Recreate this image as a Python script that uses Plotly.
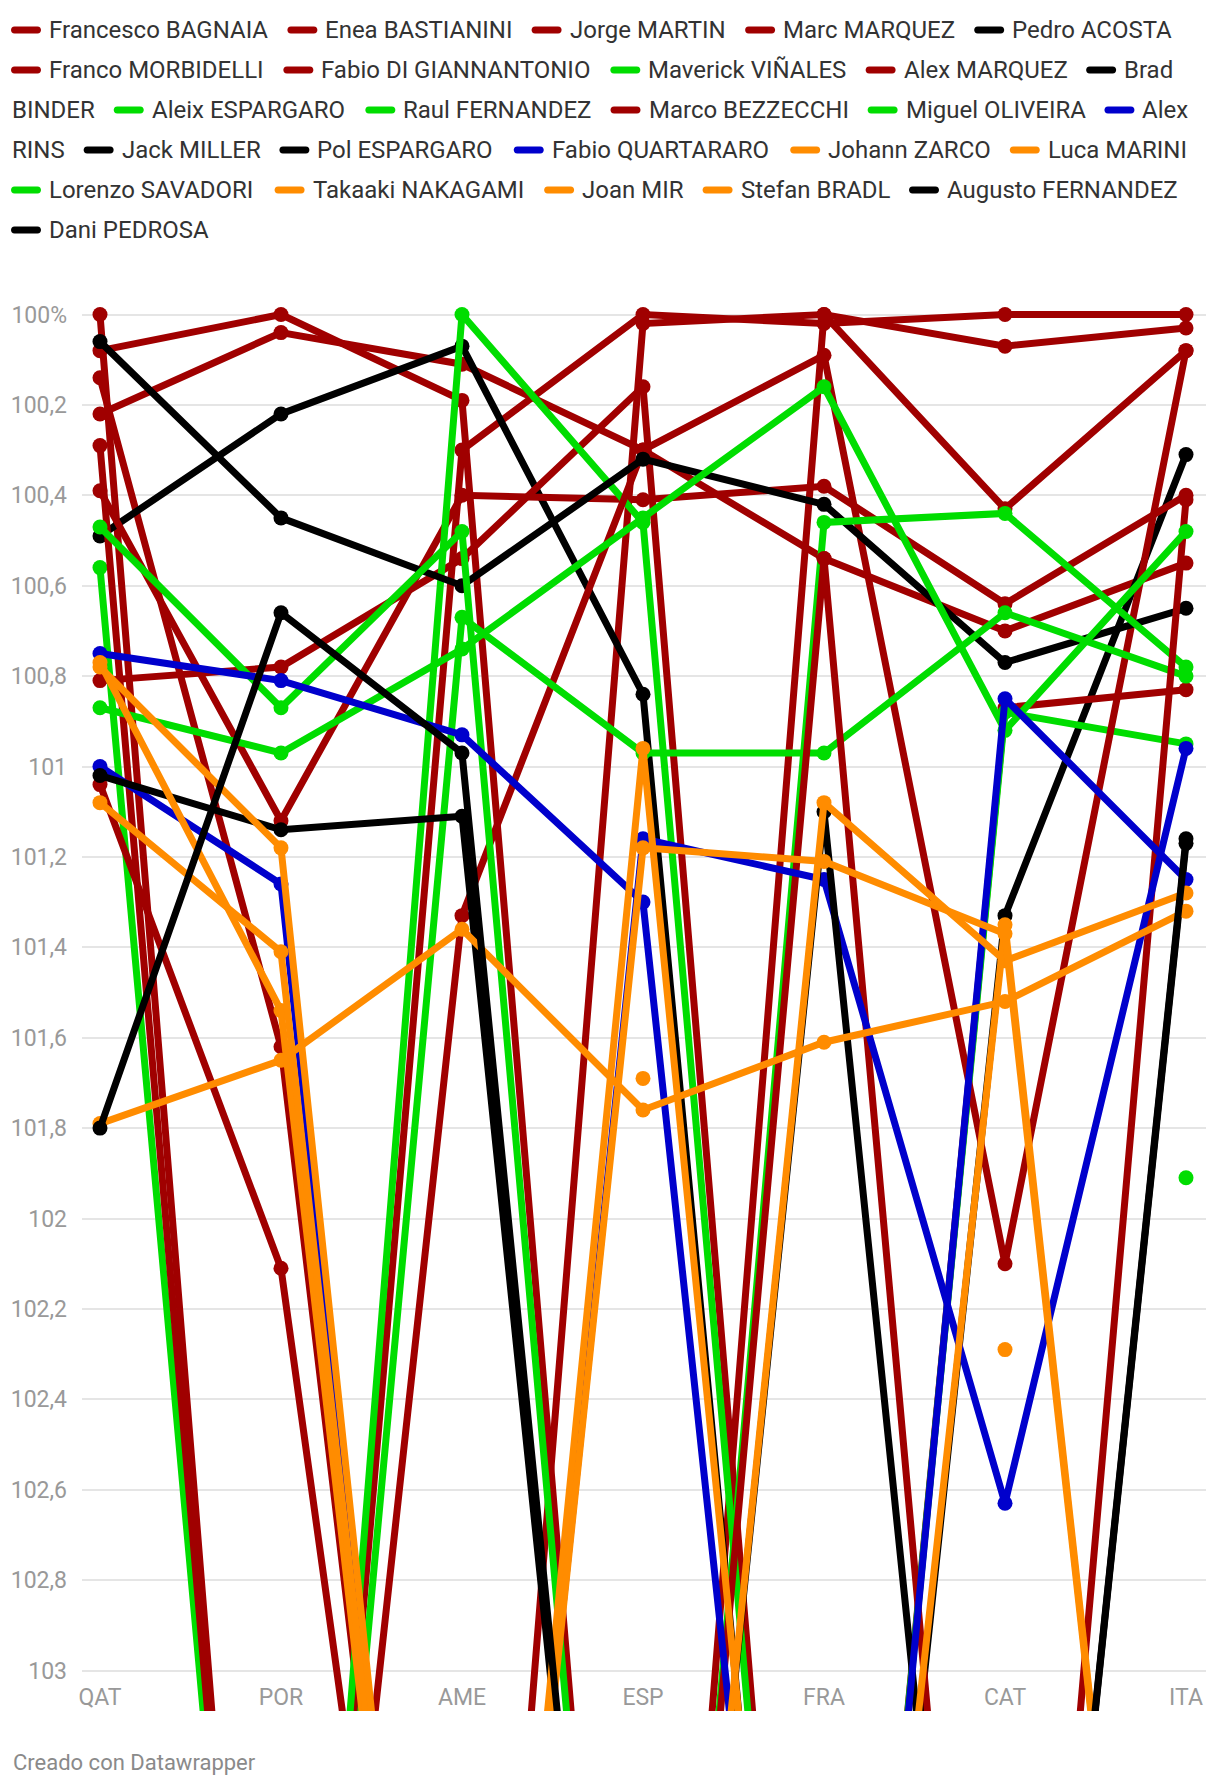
import plotly.graph_objects as go

races = ["QAT", "POR", "AME", "ESP", "FRA", "CAT", "ITA"]

# race time as % of the winner's time; values around 105 fall off the bottom of the chart
bagnaia = [100.00, 105.0, 100.30, 100.00, 100.02, 100.00, 100.00]
bastianini = [100.22, 100.04, 100.11, 100.30, 100.54, 100.70, 100.55]
martin = [100.08, 100.00, 100.19, 105.0, 100.00, 100.07, 100.03]
marc_marquez = [100.14, 101.62, 105.0, 100.02, 100.00, 100.43, 100.08]
acosta = [100.49, 100.22, 100.07, 100.84, 105.1, 101.33, 100.31]
morbidelli = [100.81, 100.78, 100.54, 100.16, 105.0, 100.87, 100.83]
di_giannantonio = [100.39, 101.12, 100.40, 100.41, 100.38, 100.64, 100.40]
vinales = [100.56, 105.0, 100.00, 100.46, 105.0, 100.88, 100.95]
alex_marquez = [100.29, 105.0, 101.33, 100.30, 100.09, 102.10, 100.08]
binder = [100.06, 100.45, 100.60, 100.32, 100.42, 100.77, 100.65]
aleix_espargaro = [100.47, 100.87, 100.48, 105.0, 100.46, 100.44, 100.78]
raul_fernandez = [105.0, 105.0, 100.67, 100.97, 100.97, 100.66, 100.80]
bezzecchi = [101.04, 102.11, 105.0, 105.0, 100.54, 105.0, 100.41]
oliveira = [100.87, 100.97, 100.74, 100.45, 100.16, 100.92, 100.48]
rins = [101.00, 101.26, 105.0, 101.16, 101.25, 102.63, 100.96]
miller = [101.02, 101.14, 101.11, 105.0, 101.10, 105.0, 101.17]
pol_espargaro = [None, 105.0, None, None, None, None, None]
quartararo = [100.75, 100.81, 100.93, 101.30, 105.05, 100.85, 101.25]
zarco = [100.77, 101.54, 105.0, 105.0, 101.08, 101.43, 101.28]
marini = [101.79, 101.65, 101.36, 101.76, 101.61, 101.52, 101.32]
savadori = [None, None, None, None, None, None, 101.91]
nakagami = [101.08, 101.41, 105.0, 100.96, 105.0, 101.35, 105.0]
mir = [100.78, 101.18, 105.0, 101.18, 101.21, 101.37, 105.0]
bradl = [None, None, None, 101.69, None, 102.29, None]
augusto_fernandez = [101.80, 100.66, 100.97, 105.0, 105.0, 105.0, 101.16]
pedrosa = [None, None, None, 105.0, None, None, None]

ytick_vals = [100, 100.2, 100.4, 100.6, 100.8, 101, 101.2, 101.4, 101.6, 101.8,
              102, 102.2, 102.4, 102.6, 102.8, 103]
ytick_text = ["100%", "100,2", "100,4", "100,6", "100,8", "101", "101,2", "101,4",
              "101,6", "101,8", "102", "102,2", "102,4", "102,6", "102,8", "103"]

RED, BLACK, GREEN, BLUE, ORANGE = "#a00000", "#000000", "#00dd00", "#0000cc", "#ff8c00"

riders = [
    ("Francesco BAGNAIA", bagnaia, RED),
    ("Enea BASTIANINI", bastianini, RED),
    ("Jorge MARTIN", martin, RED),
    ("Marc MARQUEZ", marc_marquez, RED),
    ("Pedro ACOSTA", acosta, BLACK),
    ("Franco MORBIDELLI", morbidelli, RED),
    ("Fabio DI GIANNANTONIO", di_giannantonio, RED),
    ("Maverick VIÑALES", vinales, GREEN),
    ("Alex MARQUEZ", alex_marquez, RED),
    ("Brad BINDER", binder, BLACK),
    ("Aleix ESPARGARO", aleix_espargaro, GREEN),
    ("Raul FERNANDEZ", raul_fernandez, GREEN),
    ("Marco BEZZECCHI", bezzecchi, RED),
    ("Miguel OLIVEIRA", oliveira, GREEN),
    ("Alex RINS", rins, BLUE),
    ("Jack MILLER", miller, BLACK),
    ("Pol ESPARGARO", pol_espargaro, BLACK),
    ("Fabio QUARTARARO", quartararo, BLUE),
    ("Johann ZARCO", zarco, ORANGE),
    ("Luca MARINI", marini, ORANGE),
    ("Lorenzo SAVADORI", savadori, GREEN),
    ("Takaaki NAKAGAMI", nakagami, ORANGE),
    ("Joan MIR", mir, ORANGE),
    ("Stefan BRADL", bradl, ORANGE),
    ("Augusto FERNANDEZ", augusto_fernandez, BLACK),
    ("Dani PEDROSA", pedrosa, BLACK),
]

# the page body has an 8px margin, so the figure is laid out in page pixels minus that
PAGE_OFF = 8
W, H = 1212, 1778
L, T = 82 - PAGE_OFF, 299 - PAGE_OFF
R = W - (1206 - PAGE_OFF)
B = H - (1711 - PAGE_OFF)
PW, PH = W - L - R, H - T - B
FONT = "Roboto"

fig = go.Figure()
for name, vals, color in riders:
    fig.add_trace(go.Scatter(
        x=races, y=vals, name=name, mode="lines+markers",
        line=dict(color=color, width=7),
        marker=dict(color=color, size=15),
        showlegend=False,
        hovertemplate="%{x}: %{y:.2f}%<extra>" + name + "</extra>",
    ))

# datawrapper-like legend: flows left to right, wraps words across rows
widths = {
    "A": 652, "B": 622, "C": 651, "D": 656, "E": 568, "F": 553, "G": 681, "H": 713,
    "I": 272, "J": 552, "K": 627, "L": 539, "M": 873, "N": 713, "O": 688, "P": 631,
    "Q": 688, "R": 616, "S": 593, "T": 597, "U": 648, "V": 636, "W": 887, "X": 627,
    "Y": 601, "Z": 599, "Ñ": 713,
    "a": 544, "b": 561, "c": 523, "d": 564, "e": 530, "f": 347, "g": 561, "h": 551,
    "i": 243, "j": 239, "k": 507, "l": 243, "m": 876, "n": 552, "o": 570, "p": 561,
    "q": 568, "r": 338, "s": 516, "t": 327, "u": 551, "v": 484, "w": 751, "x": 496,
    "y": 473, "z": 496, " ": 248,
}
LEG_SIZE = 24


def text_w(s):
    return sum(widths.get(c, 560) for c in s) * LEG_SIZE / 1000


def px(x):
    # page pixel -> paper x
    return (x - PAGE_OFF - L) / PW


def py(y):
    # page pixel -> paper y
    return (H - B - (y - PAGE_OFF)) / PH


def stadium(length, thick):
    a = length / 2 - thick / 2
    r = thick / 2
    k = a + 4 / 3 * r
    return (f"M {-a},{-r} L {a},{-r} C {k},{-r} {k},{r} {a},{r} "
            f"L {-a},{r} C {-k},{r} {-k},{-r} {-a},{-r} Z")


x0, row0, rowh, xmax = 11, 30, 40, 1205
sw, sgap, igap = 30, 7, 20
x, row = x0, 0
shapes, annos = [], []
for name, vals, color in riders:
    words = name.split(" ")
    if x + sw + sgap + text_w(words[0]) > xmax:
        x, row = x0, row + 1
    cy = row0 + row * rowh
    shapes.append(dict(type="path", xref="paper", yref="paper",
                       xsizemode="pixel", ysizemode="pixel",
                       xanchor=px(x + sw / 2), yanchor=py(cy),
                       path=stadium(sw, 7), fillcolor=color, line_width=0))
    tx = x + sw + sgap
    seg = ""
    for w in words:
        trial = w if not seg else seg + " " + w
        if seg and tx + text_w(trial) > xmax:
            annos.append((tx, cy, seg))
            row += 1
            cy = row0 + row * rowh
            tx, seg = x0, w
        else:
            seg = trial
    annos.append((tx, cy, seg))
    x = tx + text_w(seg) + igap

annotations = [
    dict(x=px(ax), y=py(ay), xref="paper", yref="paper", text=t, showarrow=False,
         xanchor="left", yanchor="middle", borderpad=0,
         font=dict(family=FONT, size=LEG_SIZE, color="#333333"))
    for ax, ay, t in annos
]
annotations.append(dict(
    x=px(11), y=py(1762), xref="paper", yref="paper", text="Creado con Datawrapper",
    showarrow=False, xanchor="left", yanchor="middle",
    font=dict(family=FONT, size=22, color="#8a8a8a")))

fig.update_layout(
    width=W, height=H,
    margin=dict(l=L, r=R, t=T, b=B, autoexpand=False),
    paper_bgcolor="white", plot_bgcolor="white",
    font=dict(family=FONT, color="#999999", size=23),
    shapes=shapes, annotations=annotations,
    hovermode="closest",
)
fig.update_xaxes(
    type="category", range=[-0.0994, 6.1105], automargin=False,
    showgrid=False, zeroline=False, showline=False, ticks="",
    tickfont=dict(size=23, color="#999999"),
    ticklabelstandoff=-30,
)
fig.update_yaxes(
    range=[103.0896, 99.9657], automargin=False,
    tickvals=ytick_vals, ticktext=ytick_text,
    showgrid=True, gridcolor="#e5e5e5", gridwidth=2,
    zeroline=False, showline=False, ticks="",
    tickfont=dict(size=23, color="#999999"),
    ticklabelstandoff=14,
)

fig.write_html("out.html")
